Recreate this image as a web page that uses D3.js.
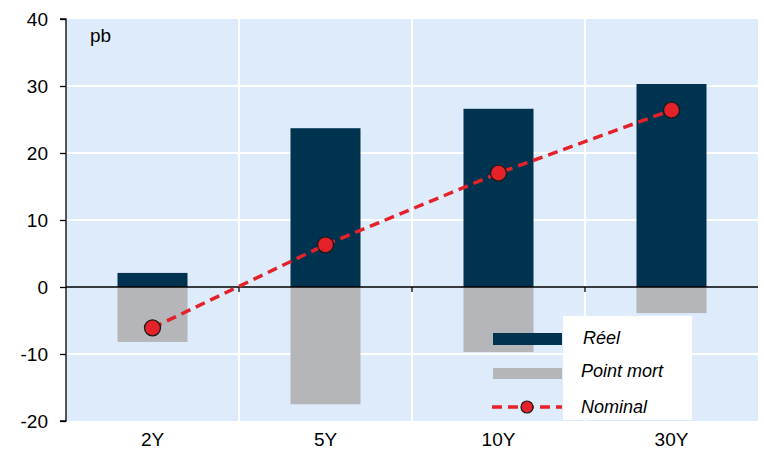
<!DOCTYPE html>
<html>
<head>
<meta charset="utf-8">
<script src="https://cdn.jsdelivr.net/npm/d3@7/dist/d3.min.js"></script>
<style>
  html, body { margin: 0; padding: 0; background: #fff; }
  svg { display: block; font-family: "Liberation Sans", Arial, sans-serif; }
</style>
</head>
<body>
<svg id="chart" width="764" height="449"></svg>
<script>
// Maturités et contributions (pb)
const maturities = ["2Y", "5Y", "10Y", "30Y"];
const reel = [2.1, 23.7, 26.6, 30.3];
const pointMort = [-8.2, -17.5, -9.7, -3.9];
const nominal = [-6.1, 6.3, 17.0, 26.4];
const yTicks = [-20, -10, 0, 10, 20, 30, 40];
const legendLabels = ["Réel", "Point mort", "Nominal"];

const colReel = "#003350";
const colPM = "#b5b6b9";
const colNom = "#e5222a";

const svg = d3.select("#chart");
const margin = { left: 66, right: 6, top: 19, bottom: 28 };
const W = 764, H = 449;

const x = d3.scaleBand()
  .domain(maturities)
  .range([margin.left, W - margin.right])
  .paddingInner(0).paddingOuter(0);

const y = d3.scaleLinear()
  .domain([-20, 40])
  .range([H - margin.bottom, margin.top]);

// Fond du graphique
svg.append("rect")
  .attr("x", margin.left).attr("y", y(40))
  .attr("width", x.range()[1] - margin.left)
  .attr("height", y(-20) - y(40))
  .attr("fill", "#deebfb");

// Grille horizontale
svg.append("g").selectAll("line")
  .data(yTicks.filter(d => d !== 0 && d !== -20 && d !== 40))
  .join("line")
  .attr("x1", margin.left).attr("x2", x.range()[1])
  .attr("y1", d => y(d)).attr("y2", d => y(d))
  .attr("stroke", "#fff").attr("stroke-width", 2);

// Grille verticale (séparations des catégories)
svg.append("g").selectAll("line")
  .data(maturities.slice(1))
  .join("line")
  .attr("x1", d => x(d)).attr("x2", d => x(d))
  .attr("y1", y(40)).attr("y2", y(-20))
  .attr("stroke", "#fff").attr("stroke-width", 2);

const barW = 70;
const cx = d => x(d) + x.bandwidth() / 2;

// Barres : réel
svg.append("g").selectAll("rect")
  .data(maturities)
  .join("rect")
  .attr("x", d => cx(d) - barW / 2)
  .attr("width", barW)
  .attr("y", (d, i) => y(Math.max(0, reel[i])))
  .attr("height", (d, i) => Math.abs(y(reel[i]) - y(0)))
  .attr("fill", colReel);

// Barres : point mort
svg.append("g").selectAll("rect")
  .data(maturities)
  .join("rect")
  .attr("x", d => cx(d) - barW / 2)
  .attr("width", barW)
  .attr("y", (d, i) => y(Math.max(0, pointMort[i])))
  .attr("height", (d, i) => Math.abs(y(pointMort[i]) - y(0)))
  .attr("fill", colPM);

// Axe des ordonnées (tiret simple pour les valeurs négatives)
const yAxis = d3.axisLeft(y).tickValues(yTicks).tickSize(6).tickPadding(12)
  .tickFormat(d => String(d));
const gy = svg.append("g").attr("transform", `translate(${margin.left},0)`).call(yAxis);
gy.select(".domain").attr("stroke", "#000").attr("stroke-width", 1.3).attr("d", `M-6,${y(40)}H0V${y(-20)}H-6`);
gy.selectAll(".tick line").attr("stroke", "#000").attr("stroke-width", 1.3);
gy.selectAll(".tick text").attr("font-size", 19).attr("fill", "#000")
  .attr("font-family", "'Liberation Sans', Arial, sans-serif");

// Ligne du zéro et graduations des catégories
svg.append("line")
  .attr("x1", margin.left).attr("x2", x.range()[1])
  .attr("y1", y(0)).attr("y2", y(0))
  .attr("stroke", "#000").attr("stroke-width", 1.3);
svg.append("g").selectAll("line")
  .data(maturities.slice(1))
  .join("line")
  .attr("x1", d => x(d)).attr("x2", d => x(d))
  .attr("y1", y(0)).attr("y2", y(0) + 5)
  .attr("stroke", "#000").attr("stroke-width", 1.3);

// Libellés des maturités
svg.append("g").selectAll("text")
  .data(maturities)
  .join("text")
  .attr("x", d => cx(d))
  .attr("y", y(-20) + 25)
  .attr("text-anchor", "middle")
  .attr("font-size", 19)
  .attr("fill", "#000")
  .text(d => d);

// Unité
svg.append("text")
  .attr("x", 90).attr("y", 42)
  .attr("font-size", 19).attr("fill", "#000")
  .text("pb");

// Nominal : ligne pointillée + marqueurs
const line = d3.line().x((d, i) => cx(maturities[i])).y(d => y(d));
svg.append("path")
  .datum(nominal)
  .attr("d", line)
  .attr("fill", "none")
  .attr("stroke", colNom)
  .attr("stroke-width", 3.5)
  .attr("stroke-dasharray", "10,6");
svg.append("g").selectAll("circle")
  .data(nominal)
  .join("circle")
  .attr("cx", (d, i) => cx(maturities[i]))
  .attr("cy", d => y(d))
  .attr("r", 8)
  .attr("fill", colNom)
  .attr("stroke", "#1a1a1a")
  .attr("stroke-width", 1.3);

// Légende
const lg = svg.append("g");
lg.append("rect")
  .attr("x", 563).attr("y", 316).attr("width", 129).attr("height", 104)
  .attr("fill", "#fff");
lg.append("rect").attr("x", 493).attr("y", 333).attr("width", 69).attr("height", 12).attr("fill", colReel);
lg.append("rect").attr("x", 493).attr("y", 368).attr("width", 69).attr("height", 11).attr("fill", colPM);
lg.append("line").attr("x1", 492).attr("x2", 562).attr("y1", 407).attr("y2", 407)
  .attr("stroke", colNom).attr("stroke-width", 3.5).attr("stroke-dasharray", "10,6");
lg.append("circle").attr("cx", 527).attr("cy", 407).attr("r", 6)
  .attr("fill", colNom).attr("stroke", "#1a1a1a").attr("stroke-width", 1.2);
const ly = [344, 377, 413];
const lx = [583, 581, 581];
lg.selectAll("text.lab")
  .data(legendLabels)
  .join("text")
  .attr("class", "lab")
  .attr("x", (d, i) => lx[i]).attr("y", (d, i) => ly[i])
  .attr("font-size", 18).attr("font-style", "italic").attr("fill", "#000")
  .text(d => d);
</script>
</body>
</html>
